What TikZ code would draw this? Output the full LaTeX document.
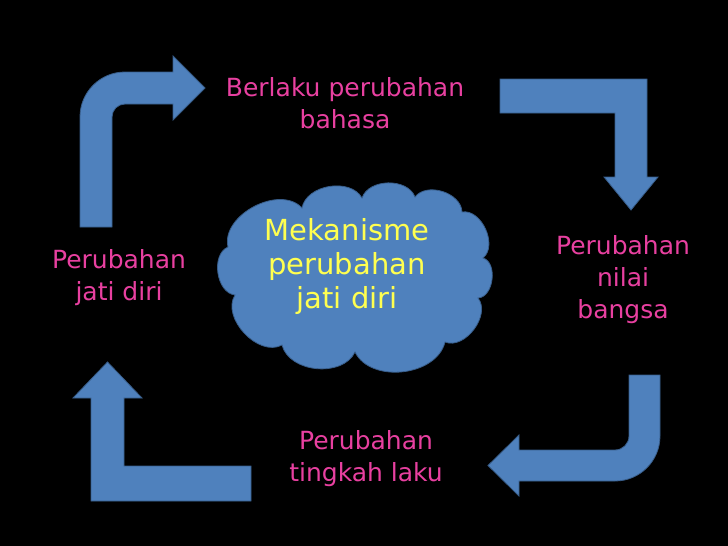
\documentclass[tikz,border=0pt]{standalone}
\usepackage{fontspec}
\setmainfont{DejaVu Sans}
\definecolor{pinktext}{RGB}{232,64,160}
\definecolor{yellowtext}{RGB}{255,255,80}
\definecolor{blueshape}{RGB}{79,129,189}
\definecolor{blueedge}{RGB}{56,93,138}
\tikzset{
  bigarrow/.style={fill=blueshape, draw=blueedge, line width=0.8pt, line join=miter},
  cloudfill/.style={fill=blueshape, draw=blueedge, line width=0.8pt},
  pinklabel/.style={text=pinktext, align=center, font=\fontsize{25}{32}\selectfont, inner sep=0pt},
  cloudlabel/.style={text=yellowtext, align=center, font=\fontsize{29}{34}\selectfont, inner sep=0pt}
}
\begin{document}
\begin{tikzpicture}[x=1pt,y=-1pt]
\fill[black] (0,0) rectangle (728,546);
\useasboundingbox (0,0) rectangle (728,546);
% top-left bent arrow (rounded)
\path[bigarrow] (80,227) -- (80,117) arc[start angle=180,end angle=270,radius=45]
  -- (173,72) -- (173,56) -- (205,88) -- (173,120) -- (173,104) -- (125,104)
  arc[start angle=270,end angle=180,radius=13] -- (112,227) -- cycle;
% top-right bent arrow (sharp)
\path[bigarrow] (500,79) -- (647,79) -- (647,177) -- (658,177) -- (631,210)
  -- (604,177) -- (615,177) -- (615,113) -- (500,113) -- cycle;
% bottom-right bent arrow (rounded)
\path[bigarrow] (629,375) -- (660,375) -- (660,436) arc[start angle=0,end angle=90,radius=45]
  -- (519,481) -- (519,496) -- (488,465.5) -- (519,435) -- (519,450) -- (615,450)
  arc[start angle=90,end angle=0,radius=14] -- cycle;
% bottom-left bent arrow (sharp)
\path[bigarrow] (91,501) -- (91,398) -- (73,398) -- (107.5,362) -- (142,398)
  -- (124,398) -- (124,466) -- (251,466) -- (251,501) -- cycle;
% central cloud
\path[cloudfill] (228,247) to[bend left=75] (302,208) to[bend left=70] (362,198)
  to[bend left=70] (415,197) to[bend left=70] (462,212) to[bend left=75] (483,258)
  to[bend left=80] (478,298) to[bend left=75] (445,342) to[bend left=70] (355,352)
  to[bend left=70] (282,345) to[bend left=75] (235,295) to[bend left=75] (228,247) -- cycle;
\node[cloudlabel] (center) at (347,266) {Mekanisme\\perubahan\\jati diri};
% labels
\node[pinklabel] (top) at (345,103) {Berlaku perubahan\\bahasa};
\node[pinklabel] (left) at (119,278) {Perubahan\\jati diri};
\node[pinklabel] (right) at (623,280) {Perubahan\\nilai\\bangsa};
\node[pinklabel] (bottom) at (366,459) {Perubahan\\tingkah laku};
\end{tikzpicture}
\end{document}
